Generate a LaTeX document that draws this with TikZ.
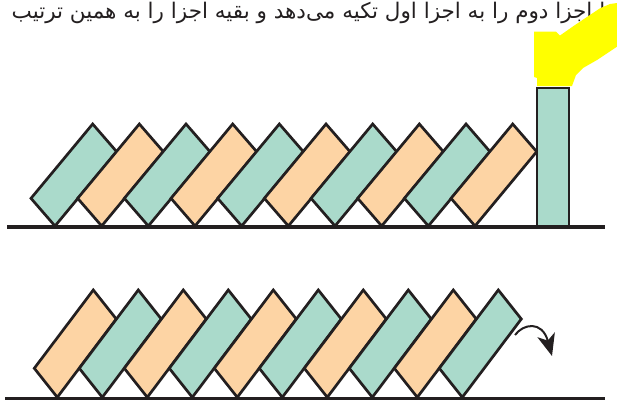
\documentclass[tikz,border=0pt]{standalone}
\usepackage{fontspec}
\usetikzlibrary{arrows.meta}
\TeXXeTstate=1
\newfontfamily\arabicfont[Script=Arabic]{DejaVu Sans}
\definecolor{domgreen}{HTML}{AADACB}
\definecolor{domorange}{HTML}{FDD4A4}
\definecolor{inkblack}{HTML}{231F20}
\definecolor{flameyellow}{HTML}{FFFF00}
\tikzset{
  domino/.style={draw=inkblack, line width=2.7pt, line join=miter},
  ground/.style={draw=inkblack, line width=3.4pt},
  turnarrow/.style={draw=inkblack, line width=2pt, -{Stealth[length=22pt,width=18pt,inset=6pt]}}
}
\begin{document}
\begin{tikzpicture}[x=1pt,y=-1pt]
\useasboundingbox (0,0) rectangle (617,399);
\clip (0,0) rectangle (617,399);
% heading text
\node[anchor=base, inner sep=0pt, text=inkblack, font=\fontsize{21.5}{24}\selectfont] (heading) at (308.5,18)
  {\arabicfont\beginR ا اجزا دوم را به اجزا اول تکیه می‌دهد و بقیه اجزا را به همین ترتیب\endR};
% flame
\fill[flameyellow] (534,31.7) -- (556,31.7) -- (560,35.5) -- (575,25) -- (600,8.3) -- (610,4) -- (617,3)
  -- (617,46.7) -- (597,60) -- (583,68) -- (576,75) -- (572,86) -- (537,86) -- (537,78) -- (534,77) -- cycle;
% top row
\foreach \i in {0,...,9}{
  \pgfmathsetmacro{\bx}{55+46.67*\i}
  \ifodd\i \def\fc{domorange}\else \def\fc{domgreen}\fi
  \filldraw[domino, fill=\fc] (\bx,226) -- ++(-24,-27.67) -- ++(61.67,-74.33) -- ++(24,27.67) -- cycle;
}
\filldraw[domino, fill=domgreen] (537,88) rectangle (569,226);
\draw[ground] (7,227) -- (605,227);
% bottom row
\foreach \i in {0,...,9}{
  \pgfmathsetmacro{\bx}{57.3+45*\i}
  \ifodd\i \def\fc{domgreen}\else \def\fc{domorange}\fi
  \filldraw[domino, fill=\fc] (\bx,397.3) -- ++(-23,-29) -- ++(59,-78.3) -- ++(23,29) -- cycle;
}
\draw[ground] (5,398.5) -- (605,398.5);
\coordinate (arcstart) at (515,335);
\coordinate (arcend) at (552,356);
\draw[turnarrow] (arcstart) .. controls (523,324) and (542,320) .. (arcend);
\end{tikzpicture}
\end{document}
